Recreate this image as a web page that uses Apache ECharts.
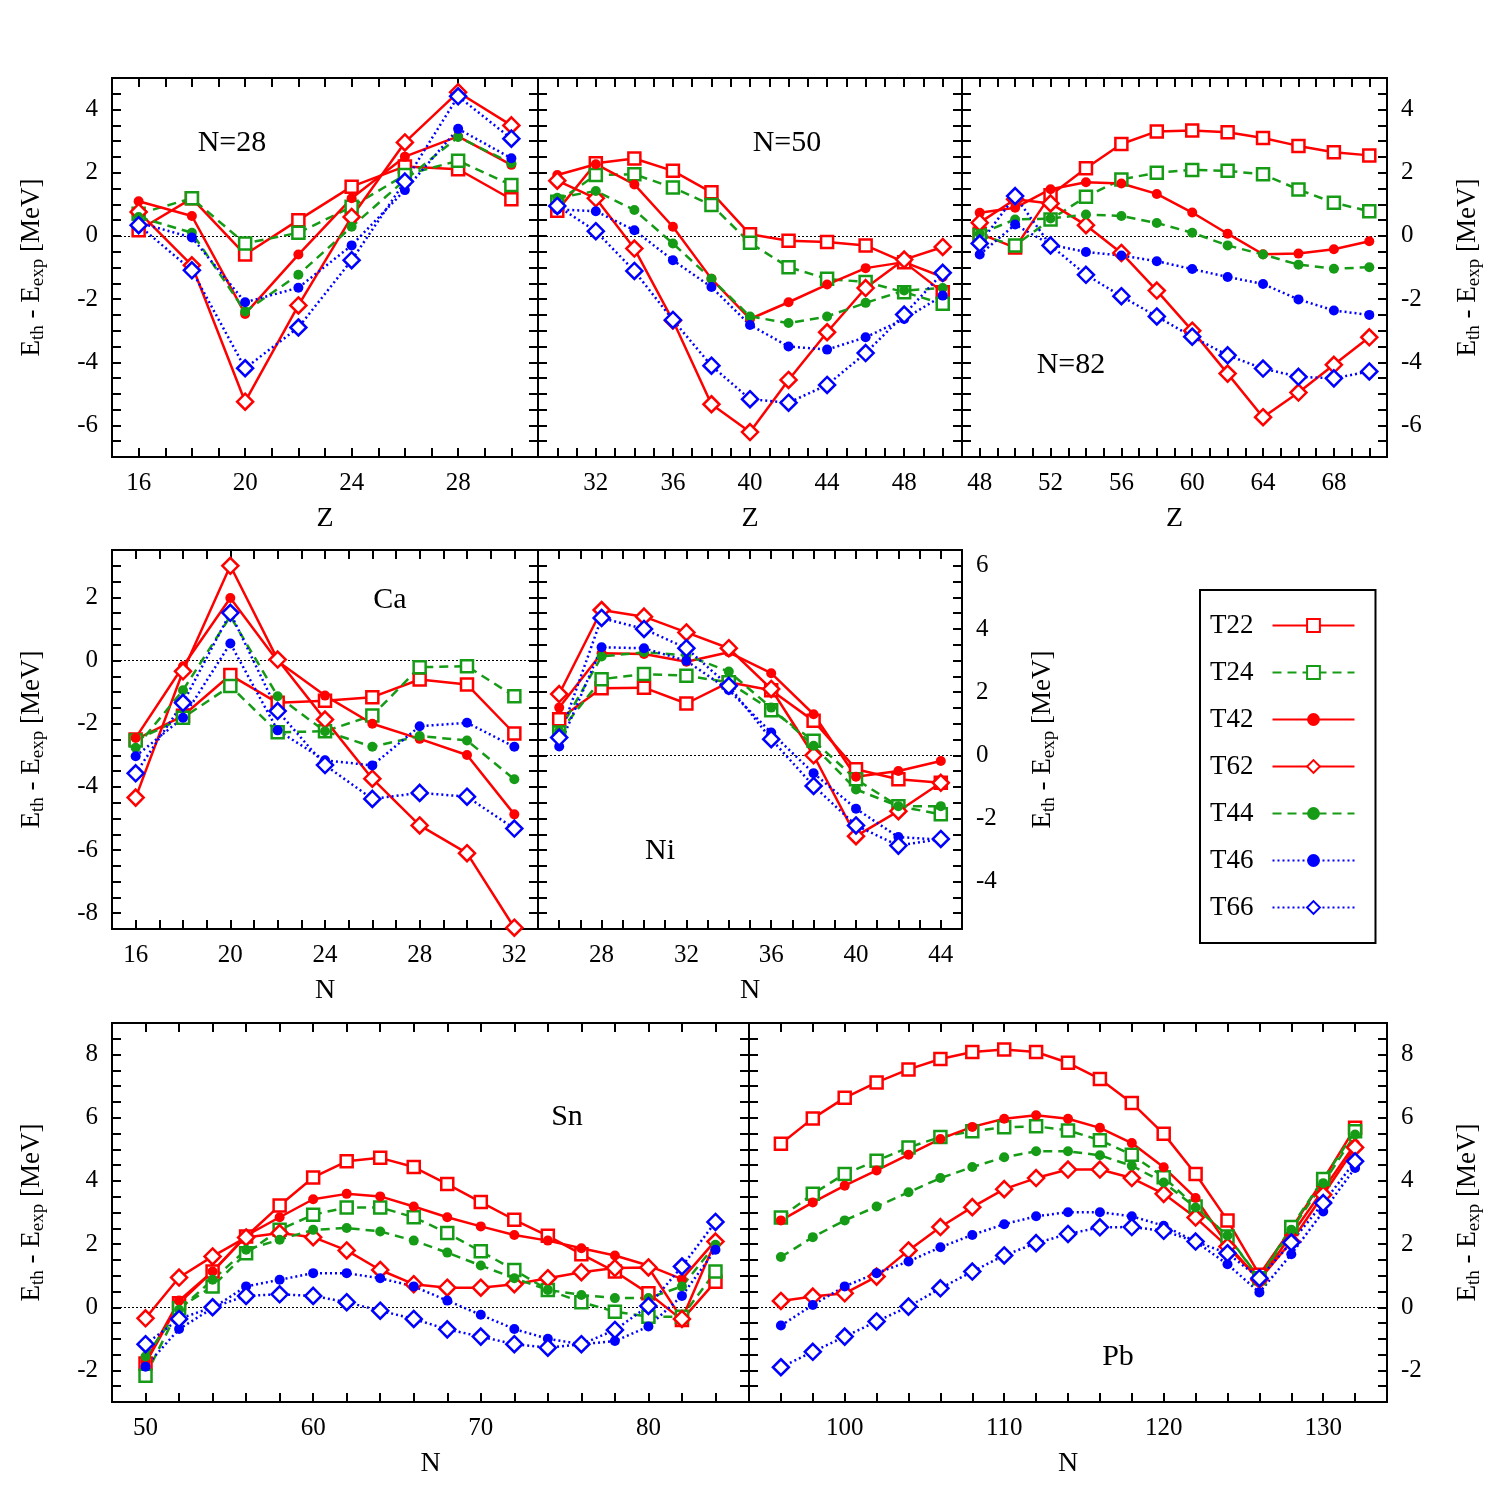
<!DOCTYPE html>
<html>
<head>
<meta charset="utf-8">
<script src="https://cdn.jsdelivr.net/npm/echarts@6/dist/echarts.min.js"></script>
<style>
  html, body { margin: 0; padding: 0; background: #fff; }
  #chart { width: 1500px; height: 1496px; }
</style>
</head>
<body>
<div id="chart"></div>
<script>
// N=28 isotones
const n28Z = [16, 18, 20, 22, 24, 26, 28, 30];
const n28_T22 = [0.18, 1.19, -0.59, 0.50, 1.56, 2.20, 2.11, 1.16];
const n28_T24 = [0.70, 1.19, -0.24, 0.10, 0.92, 1.93, 2.38, 1.61];
const n28_T42 = [1.10, 0.63, -2.47, -0.59, 1.19, 2.51, 3.15, 2.25];
const n28_T62 = [0.76, -0.93, -5.25, -2.20, 0.60, 2.96, 4.55, 3.50];
const n28_T44 = [0.60, 0.10, -2.39, -1.23, 0.29, 1.77, 3.13, 2.30];
const n28_T46 = [0.42, -0.05, -2.10, -1.64, -0.30, 1.45, 3.39, 2.46];
const n28_T66 = [0.34, -1.09, -4.19, -2.90, -0.77, 1.72, 4.42, 3.08];

// N=50 isotones
const n50Z = [30, 32, 34, 36, 38, 40, 42, 44, 46, 48, 50];
const n50_T22 = [0.80, 2.30, 2.45, 2.06, 1.38, 0.05, -0.15, -0.19, -0.30, -0.83, -1.78];
const n50_T24 = [1.08, 1.93, 1.95, 1.53, 0.98, -0.22, -0.99, -1.36, -1.46, -1.78, -2.15];
const n50_T42 = [1.93, 2.27, 1.63, 0.29, -1.36, -2.63, -2.10, -1.54, -1.02, -0.83, -1.30];
const n50_T62 = [1.75, 1.19, -0.40, -2.68, -5.33, -6.21, -4.56, -3.05, -1.65, -0.75, -0.35];
const n50_T44 = [1.21, 1.42, 0.82, -0.24, -1.36, -2.55, -2.76, -2.55, -2.12, -1.73, -1.65];
const n50_T46 = [0.84, 0.78, 0.18, -0.77, -1.62, -2.82, -3.50, -3.60, -3.21, -2.63, -1.89];
const n50_T66 = [0.95, 0.15, -1.11, -2.66, -4.11, -5.17, -5.28, -4.72, -3.71, -2.49, -1.17];

// N=82 isotones
const n82Z = [48, 50, 52, 54, 56, 58, 60, 62, 64, 66, 68, 70];
const n82_T22 = [0.07, -0.37, 1.29, 2.14, 2.91, 3.31, 3.34, 3.28, 3.10, 2.85, 2.65, 2.55];
const n82_T24 = [0.02, -0.30, 0.52, 1.24, 1.79, 2.00, 2.09, 2.06, 1.95, 1.47, 1.05, 0.78];
const n82_T42 = [0.73, 0.89, 1.48, 1.70, 1.66, 1.33, 0.74, 0.07, -0.58, -0.56, -0.42, -0.17];
const n82_T62 = [0.42, 1.16, 1.03, 0.34, -0.54, -1.73, -3.00, -4.36, -5.74, -4.96, -4.08, -3.21];
const n82_T44 = [0.07, 0.52, 0.55, 0.68, 0.63, 0.41, 0.10, -0.30, -0.59, -0.91, -1.04, -0.99];
const n82_T46 = [-0.59, 0.36, -0.28, -0.51, -0.62, -0.80, -1.05, -1.30, -1.52, -2.01, -2.36, -2.50];
const n82_T66 = [-0.24, 1.26, -0.30, -1.23, -1.91, -2.55, -3.19, -3.78, -4.20, -4.46, -4.51, -4.29];

// Ca isotopes
const caN = [16, 18, 20, 22, 24, 26, 28, 30, 32];
const ca_T22 = [-2.50, -1.75, -0.46, -1.34, -1.27, -1.16, -0.60, -0.76, -2.31];
const ca_T24 = [-2.53, -1.81, -0.81, -2.27, -2.24, -1.74, -0.21, -0.18, -1.13];
const ca_T42 = [-2.45, -0.18, 1.98, -0.02, -1.11, -2.00, -2.48, -2.99, -4.87];
const ca_T62 = [-4.34, -0.34, 3.00, 0.03, -1.87, -3.74, -5.22, -6.10, -8.46];
const ca_T44 = [-2.76, -0.94, 1.40, -1.13, -2.24, -2.73, -2.39, -2.53, -3.76];
const ca_T46 = [-3.03, -1.81, 0.54, -2.21, -3.16, -3.32, -2.08, -1.97, -2.73];
const ca_T66 = [-3.57, -1.34, 1.51, -1.60, -3.31, -4.38, -4.19, -4.31, -5.32];

// Ni isotopes
const niN = [26, 28, 30, 32, 34, 36, 38, 40, 42, 44];
const ni_T22 = [1.14, 2.12, 2.14, 1.64, 2.31, 2.06, 1.09, -0.44, -0.76, -0.87];
const ni_T24 = [0.72, 2.41, 2.57, 2.52, 2.31, 1.43, 0.46, -0.76, -1.61, -1.87];
const ni_T42 = [1.51, 3.23, 3.21, 2.96, 3.26, 2.60, 1.30, -0.68, -0.50, -0.18];
const ni_T62 = [1.94, 4.60, 4.39, 3.89, 3.39, 2.10, 0.00, -2.56, -1.77, -0.87];
const ni_T44 = [0.77, 3.13, 3.26, 3.17, 2.65, 1.51, 0.30, -1.08, -1.61, -1.61];
const ni_T46 = [0.28, 3.42, 3.39, 2.99, 2.07, 0.72, -0.57, -1.69, -2.59, -2.67];
const ni_T66 = [0.56, 4.35, 4.00, 3.39, 2.20, 0.51, -0.97, -2.22, -2.86, -2.65];

// Sn isotopes
const snN = [50, 52, 54, 56, 58, 60, 62, 64, 66, 68, 70, 72, 74, 76, 78, 80, 82, 84];
const sn_T22 = [-1.78, 0.13, 1.13, 2.24, 3.22, 4.11, 4.62, 4.73, 4.44, 3.90, 3.33, 2.77, 2.26, 1.68, 1.13, 0.44, -0.40, 0.81];
const sn_T24 = [-2.17, -0.03, 0.66, 1.71, 2.45, 2.93, 3.16, 3.16, 2.85, 2.35, 1.77, 1.18, 0.55, 0.16, -0.14, -0.30, -0.30, 1.13];
const sn_T42 = [-1.72, 0.21, 1.13, 2.27, 2.85, 3.42, 3.59, 3.51, 3.19, 2.85, 2.56, 2.29, 2.11, 1.87, 1.64, 1.32, 0.89, 2.11];
const sn_T62 = [-0.35, 0.94, 1.61, 2.21, 2.35, 2.22, 1.80, 1.18, 0.73, 0.62, 0.62, 0.73, 0.92, 1.11, 1.24, 1.26, -0.37, 2.08];
const sn_T44 = [-1.56, -0.08, 0.87, 1.82, 2.14, 2.45, 2.51, 2.40, 2.11, 1.73, 1.32, 0.92, 0.55, 0.39, 0.29, 0.29, 0.66, 1.98];
const sn_T46 = [-1.88, -0.69, -0.03, 0.66, 0.87, 1.08, 1.08, 0.92, 0.66, 0.21, -0.24, -0.69, -1.00, -1.17, -1.07, -0.61, 0.36, 1.82];
const sn_T66 = [-1.17, -0.37, 0.00, 0.36, 0.41, 0.36, 0.16, -0.11, -0.37, -0.70, -0.93, -1.17, -1.28, -1.17, -0.72, 0.04, 1.29, 2.70];

// Pb isotopes
const pbN = [96, 98, 100, 102, 104, 106, 108, 110, 112, 114, 116, 118, 120, 122, 124, 126, 128, 130, 132];
const pb_T22 = [5.18, 5.98, 6.63, 7.12, 7.53, 7.86, 8.08, 8.16, 8.08, 7.74, 7.23, 6.47, 5.49, 4.22, 2.75, 1.03, 2.48, 4.04, 5.68];
const pb_T24 = [2.84, 3.59, 4.22, 4.64, 5.06, 5.39, 5.57, 5.70, 5.73, 5.60, 5.29, 4.83, 4.12, 3.19, 2.24, 0.92, 2.54, 4.06, 5.57];
const pb_T42 = [2.75, 3.32, 3.85, 4.33, 4.83, 5.33, 5.71, 5.97, 6.08, 5.97, 5.68, 5.20, 4.43, 3.46, 1.98, 0.87, 2.29, 3.72, 5.17];
const pb_T62 = [0.20, 0.34, 0.44, 0.97, 1.80, 2.54, 3.17, 3.74, 4.09, 4.36, 4.36, 4.09, 3.59, 2.84, 1.92, 0.87, 2.08, 3.56, 5.06];
const pb_T44 = [1.59, 2.22, 2.75, 3.19, 3.64, 4.09, 4.44, 4.75, 4.94, 4.94, 4.81, 4.48, 3.95, 3.16, 2.27, 0.92, 2.45, 3.93, 5.47];
const pb_T46 = [-0.58, 0.07, 0.66, 1.08, 1.45, 1.90, 2.29, 2.63, 2.88, 3.01, 3.01, 2.88, 2.58, 2.08, 1.36, 0.47, 1.68, 3.03, 4.41];
const pb_T66 = [-1.90, -1.41, -0.93, -0.45, 0.02, 0.60, 1.13, 1.64, 2.03, 2.32, 2.53, 2.54, 2.42, 2.08, 1.71, 0.92, 2.05, 3.30, 4.62];

const models = ['T22', 'T24', 'T42', 'T62', 'T44', 'T46', 'T66'];

const RED = '#ff0000', GREEN = '#169b16', BLUE = '#0000ff';
const look = {
  T22: { color: RED,   line: 'solid',  symbol: 'rect',    open: true,  size: 12 },
  T24: { color: GREEN, line: [9, 6],   symbol: 'rect',    open: true,  size: 12 },
  T42: { color: RED,   line: 'solid',  symbol: 'circle',  open: false, size: 10 },
  T62: { color: RED,   line: 'solid',  symbol: 'diamond', open: true,  size: 16 },
  T44: { color: GREEN, line: [9, 6],   symbol: 'circle',  open: false, size: 10 },
  T46: { color: BLUE,  line: [2, 3],   symbol: 'circle',  open: false, size: 10 },
  T66: { color: BLUE,  line: [2, 3],   symbol: 'diamond', open: true,  size: 16 }
};

const panels = [
  { x: n28Z, d: [n28_T22, n28_T24, n28_T42, n28_T62, n28_T44, n28_T46, n28_T66],
    grid: [112, 78, 426, 379], xr: [15, 31, 1, 4], yr: [-7, 5], xname: 'Z', ySide: 'left',
    tag: 'N=28', tx: 232, ty: 143 },
  { x: n50Z, d: [n50_T22, n50_T24, n50_T42, n50_T62, n50_T44, n50_T46, n50_T66],
    grid: [538, 78, 424, 379], xr: [29, 51, 1, 4], yr: [-7, 5], xname: 'Z', ySide: 'none',
    tag: 'N=50', tx: 787, ty: 143 },
  { x: n82Z, d: [n82_T22, n82_T24, n82_T42, n82_T62, n82_T44, n82_T46, n82_T66],
    grid: [962, 78, 425, 379], xr: [47, 71, 1, 4], yr: [-7, 5], xname: 'Z', ySide: 'right',
    tag: 'N=82', tx: 1071, ty: 365 },
  { x: caN, d: [ca_T22, ca_T24, ca_T42, ca_T62, ca_T44, ca_T46, ca_T66],
    grid: [112, 550, 426, 379], xr: [15, 33, 1, 4], yr: [-8.5, 3.5], xname: 'N', ySide: 'left',
    tag: 'Ca', tx: 390, ty: 600 },
  { x: niN, d: [ni_T22, ni_T24, ni_T42, ni_T62, ni_T44, ni_T46, ni_T66],
    grid: [538, 550, 424, 379], xr: [25, 45, 1, 4], yr: [-5.5, 6.5], xname: 'N', ySide: 'right',
    tag: 'Ni', tx: 660, ty: 851 },
  { x: snN, d: [sn_T22, sn_T24, sn_T42, sn_T62, sn_T44, sn_T46, sn_T66],
    grid: [112, 1023, 637, 379], xr: [48, 86, 2, 10], yr: [-3, 9], xname: 'N', ySide: 'left',
    tag: 'Sn', tx: 567, ty: 1117 },
  { x: pbN, d: [pb_T22, pb_T24, pb_T42, pb_T62, pb_T44, pb_T46, pb_T66],
    grid: [749, 1023, 638, 379], xr: [94, 134, 2, 10], yr: [-3, 9], xname: 'N', ySide: 'right',
    tag: 'Pb', tx: 1118, ty: 1357 }
];

const SERIF = '"Liberation Serif", "DejaVu Serif", serif';
const grids = [], xAxes = [], yAxes = [], series = [], texts = [];

const yName = 'E{s|th} - E{s|exp} [MeV]';
const yNameStyle = {
  fontFamily: SERIF, fontSize: 27, color: '#000',
  rich: { s: { fontFamily: SERIF, fontSize: 19, color: '#000', padding: [14, 0, 0, 0] } }
};

panels.forEach((p, i) => {
  const [l, t, w, h] = p.grid;
  grids.push({ left: l, top: t, width: w, height: h, show: true,
    borderColor: '#000', borderWidth: 2, backgroundColor: 'transparent' });

  const tick = { show: true, inside: true, length: 9, lineStyle: { color: '#000', width: 2 } };
  // bottom axis with labels, top axis mirror ticks
  ['bottom', 'top'].forEach(pos => {
    xAxes.push({
      type: 'value', gridIndex: i, position: pos, min: p.xr[0], max: p.xr[1], interval: p.xr[2],
      axisLine: { show: false, onZero: false }, axisTick: tick, splitLine: { show: false },
      axisLabel: {
        show: pos === 'bottom', margin: 14, fontFamily: SERIF, fontSize: 25, color: '#000',
        formatter: v => (v % p.xr[3] === 0 ? String(v) : '')
      },
      name: pos === 'bottom' ? p.xname : '', nameLocation: 'middle', nameGap: 48,
      nameTextStyle: { fontFamily: SERIF, fontSize: 28, color: '#000' }
    });
  });
  ['left', 'right'].forEach(pos => {
    const lab = p.ySide === pos;
    yAxes.push({
      type: 'value', gridIndex: i, position: pos, min: p.yr[0], max: p.yr[1], interval: 0.5,
      axisLine: { show: false, onZero: false }, axisTick: tick, splitLine: { show: false },
      axisLabel: {
        show: lab, margin: 14, fontFamily: SERIF, fontSize: 25, color: '#000',
        formatter: v => (Math.abs(v % 2) < 1e-9 ? String(v) : '')
      },
      name: lab ? yName : '', nameLocation: 'middle', nameRotate: 90, nameGap: 64,
      nameTextStyle: yNameStyle
    });
  });

  models.forEach((m, k) => {
    const s = look[m];
    const ser = {
      name: m, type: 'line', xAxisIndex: 2 * i, yAxisIndex: 2 * i,
      data: p.x.map((xv, j) => [xv, p.d[k][j]]),
      symbol: s.symbol, symbolSize: s.size,
      lineStyle: { color: s.color, width: 2.5, type: s.line },
      itemStyle: s.open
        ? { color: '#fff', borderColor: s.color, borderWidth: 2.5 }
        : { color: s.color, borderColor: s.color, borderWidth: 0 },
      z: 3
    };
    if (k === 0) {
      ser.markLine = {
        silent: true, symbol: ['none', 'none'], label: { show: false },
        lineStyle: { color: '#000', type: [2, 2], width: 1 },
        data: [{ yAxis: 0 }], z: 1
      };
    }
    series.push(ser);
  });

  texts.push({
    type: 'text', left: p.tx, top: p.ty, z: 10,
    style: { text: p.tag, font: '30px ' + SERIF, fill: '#000', align: 'center', verticalAlign: 'middle' }
  });
});

const chart = echarts.init(document.getElementById('chart'));
chart.setOption({
  animation: false,
  backgroundColor: '#fff',
  grid: grids,
  xAxis: xAxes,
  yAxis: yAxes,
  series: series,
  legend: {
    data: models, orient: 'vertical', left: 1200, top: 590,
    padding: [22, 20, 22, 10], itemGap: 20, itemWidth: 82, itemHeight: 16,
    align: 'right', backgroundColor: '#fff', borderColor: '#000', borderWidth: 2,
    textStyle: { fontFamily: SERIF, fontSize: 27, color: '#000', padding: [0, 14, 0, 0] }
  },
  graphic: texts.map(t => ({ type: 'text', x: t.left, y: t.top, z: 10, style: t.style }))
});
</script>
</body>
</html>
